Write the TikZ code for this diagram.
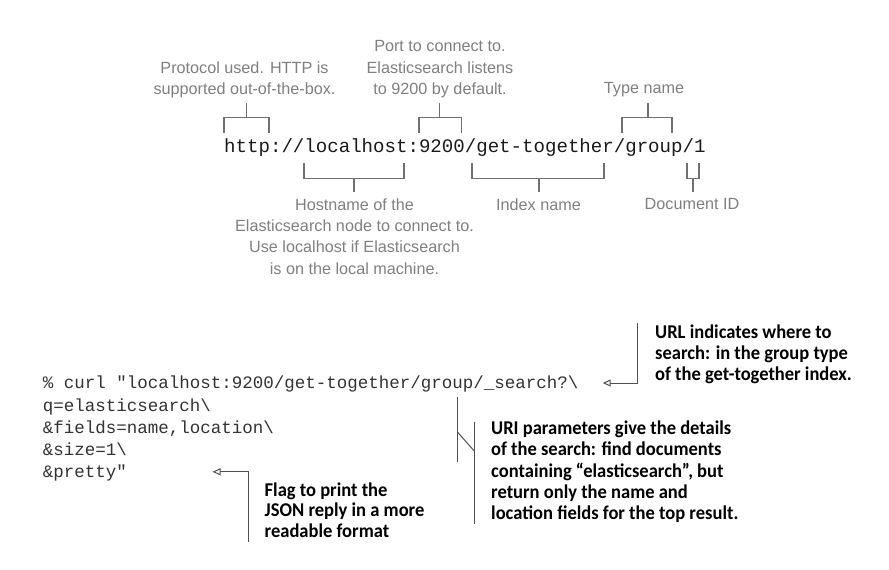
\documentclass[tikz,border=0pt]{standalone}
\usepackage{fontspec}
\setmainfont{Liberation Sans}
\newfontfamily\monofont{Liberation Mono}
\newfontfamily\notefont[FakeStretch=0.95]{Carlito}
\usetikzlibrary{arrows.meta}
\definecolor{lblgray}{HTML}{808080}
\definecolor{brgray}{HTML}{707070}
\definecolor{codegray}{HTML}{333333}
\definecolor{urlblack}{HTML}{1A1A1A}
\definecolor{linegray}{HTML}{505050}
\tikzset{
 lbl/.style={font=\fontsize{16.2}{21.3}\selectfont, text=lblgray, align=center, inner sep=0pt, anchor=north},
 bracketline/.style={draw=brgray, line width=1.1pt},
 note/.style={font=\notefont\bfseries\fontsize{19.5}{21.3}\selectfont, align=left, inner sep=0pt, anchor=north west, text=black},
 codeline/.style={font=\monofont\fontsize{17.5}{22}\selectfont, text=codegray, inner sep=0pt, anchor=base west},
 pointer/.style={draw=linegray, line width=1pt},
 tipend/.style={-{Triangle[open,length=8pt,width=7pt]}}
}
\begin{document}
\begin{tikzpicture}[x=1pt,y=-1pt]
\useasboundingbox[fill=white] (0,0) rectangle (889,570);

% URL
\node[font=\monofont\fontsize{19.1}{22}\selectfont, text=urlblack, inner sep=0pt, anchor=base west] (url) at (224,152) {http://localhost:9200/get-together/group/1};

% labels
\node[lbl] (proto) at (244.5,61.4) {Protocol used. HTTP is\\supported out-of-the-box.};
\node[lbl] (port) at (440,40.4) {Port to connect to.\\Elasticsearch listens\\to 9200 by default.};
\node[lbl] (type) at (644,82.4) {Type name};
\node[lbl] (host) at (354.5,198.4) {Hostname of the\\Elasticsearch node to connect to.\\Use localhost if Elasticsearch\\is on the local machine.};
\node[lbl] (index) at (538.5,198.4) {Index name};
\node[lbl] (docid) at (692,198.4) {Document ID};

% upper brackets
\draw[bracketline] (224,133) -- (224,117.5) -- (269,117.5) -- (269,133);
\draw[bracketline] (246.5,117.5) -- (246.5,103);
\draw[bracketline] (419,133) -- (419,117.5) -- (461.5,117.5) -- (461.5,133);
\draw[bracketline] (439.5,117.5) -- (439.5,103);
\draw[bracketline] (622,133) -- (622,117.5) -- (672,117.5) -- (672,133);
\draw[bracketline] (648,117.5) -- (648,103);
% lower brackets
\draw[bracketline] (304,163) -- (304,178.5) -- (404,178.5) -- (404,163);
\draw[bracketline] (354,178.5) -- (354,192);
\draw[bracketline] (472,163) -- (472,178.5) -- (604,178.5) -- (604,163);
\draw[bracketline] (539,178.5) -- (539,192);
\draw[bracketline] (687,163) -- (687,178.5) -- (699,178.5) -- (699,163);
\draw[bracketline] (693,178.5) -- (693,192);

% code
\node[codeline] (c1) at (42.6,388.3) {\%~curl~"localhost:9200/get-together/group/\_search?\textbackslash};
\node[codeline] (c2) at (42.6,411) {q=elasticsearch\textbackslash};
\node[codeline] (c3) at (42.6,433) {\&fields=name,location\textbackslash};
\node[codeline] (c4) at (42.6,455.7) {\&size=1\textbackslash};
\node[codeline] (c5) at (42.6,477.7) {\&pretty"};

% notes
\node[note] (urlnote) at (655,324.3) {URL indicates where to\\search: in the group type\\of the get-together index.};
\node[note] (urinote) at (491,420.8) {URI parameters give the details\\of the search: find documents\\containing “elasticsearch”, but\\return only the name and\\location fields for the top result.};
\node[note, font=\notefont\bfseries\fontsize{19.5}{20.5}\selectfont] (flagnote) at (264.5,482.3) {Flag to print the\\JSON reply in a more\\readable format};

% pointers
\coordinate (urltip) at (602.7,383);
\coordinate (urlknee) at (637.7,322.7);
\draw[pointer,tipend] (urlknee) |- (urltip);

\coordinate (flagtip) at (212.5,471.8);
\coordinate (flagbot) at (248.5,542);
\draw[pointer,tipend] (flagbot) |- (flagtip);

\coordinate (uria) at (457.7,396.7);
\coordinate (urib) at (457.7,461.7);
\coordinate (uric) at (457.7,432.3);
\coordinate (urid) at (474,450.7);
\coordinate (urie) at (474,421.7);
\coordinate (urif) at (474,524);
\draw[pointer] (uria) -- (urib);
\draw[pointer] (uric) -- (urid);
\draw[pointer] (urie) -- (urif);
\end{tikzpicture}
\end{document}
